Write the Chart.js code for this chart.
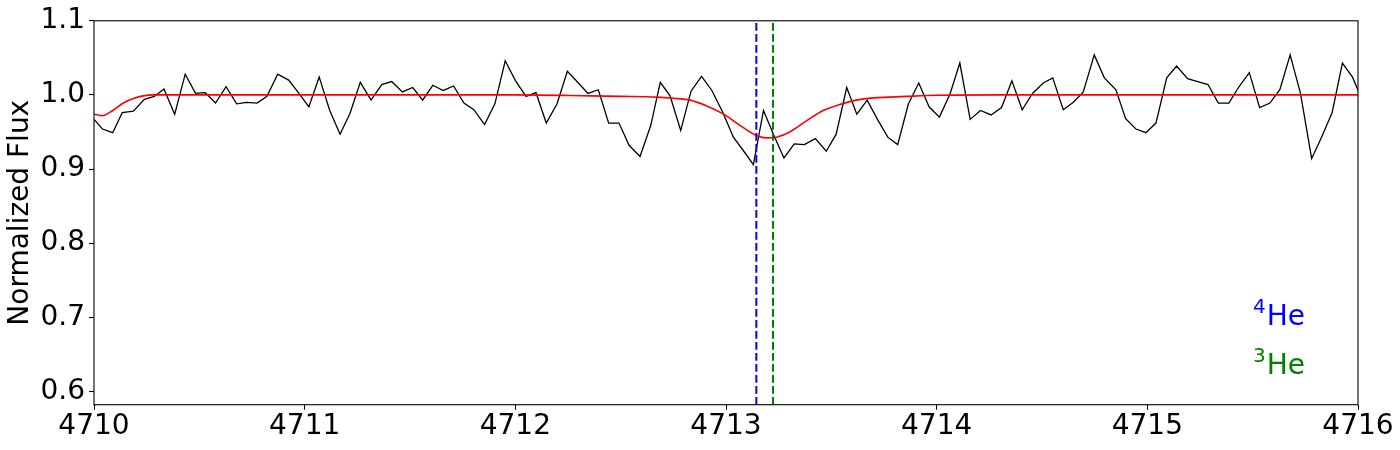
<!DOCTYPE html>
<html>
<head>
<meta charset="utf-8">
<script src="https://cdn.jsdelivr.net/npm/chart.js@4"></script>
<style>
html,body{margin:0;padding:0;background:#fff;}
#wrap{position:relative;width:1400px;height:450px;}
</style>
</head>
<body>
<div id="wrap"><canvas id="c" width="1400" height="450"></canvas></div>
<script>
// ---- data ----
const wavelength = [
4710.000,4710.040,4710.089,4710.134,4710.187,4710.239,4710.286,4710.332,4710.383,4710.433,
4710.482,4710.528,4710.577,4710.627,4710.677,4710.725,4710.774,4710.821,4710.872,4710.924,
4710.973,4711.020,4711.069,4711.119,4711.168,4711.215,4711.264,4711.315,4711.366,4711.413,
4711.464,4711.513,4711.560,4711.608,4711.658,4711.707,4711.756,4711.803,4711.854,4711.903,
4711.952,4712.001,4712.051,4712.098,4712.147,4712.198,4712.247,4712.296,4712.345,4712.394,
4712.443,4712.492,4712.540,4712.592,4712.643,4712.688,4712.734,4712.785,4712.834,4712.884,
4712.933,4712.984,4713.035,4713.082,4713.130,4713.178,4713.225,4713.275,4713.324,4713.372,
4713.424,4713.476,4713.523,4713.573,4713.621,4713.670,4713.719,4713.768,4713.815,4713.866,
4713.915,4713.964,4714.013,4714.063,4714.110,4714.159,4714.208,4714.258,4714.308,4714.357,
4714.406,4714.455,4714.506,4714.551,4714.601,4714.649,4714.696,4714.748,4714.796,4714.851,
4714.897,4714.946,4714.993,4715.041,4715.092,4715.139,4715.191,4715.239,4715.288,4715.337,
4715.387,4715.435,4715.484,4715.533,4715.582,4715.629,4715.678,4715.727,4715.780,4715.827,
4715.877,4715.926,4715.974,4716.023
];
const flux = [
0.967,0.954,0.949,0.976,0.978,0.994,0.998,1.008,0.974,1.028,
1.002,1.003,0.989,1.011,0.988,0.990,0.989,0.998,1.028,1.020,
1.002,0.984,1.024,0.979,0.947,0.975,1.017,0.993,1.014,1.018,
1.004,1.010,0.993,1.013,1.006,1.012,0.989,0.980,0.960,0.988,
1.046,1.019,0.998,1.003,0.962,0.988,1.032,1.017,1.002,1.007,
0.962,0.962,0.932,0.917,0.959,1.017,0.999,0.952,1.005,1.025,
1.006,0.977,0.943,0.925,0.906,0.979,0.947,0.915,0.934,0.933,
0.941,0.924,0.947,1.010,0.974,0.993,0.967,0.943,0.933,0.988,
1.016,0.984,0.970,1.001,1.043,0.967,0.979,0.973,0.983,1.019,
0.980,1.002,1.016,1.023,0.980,0.990,1.004,1.054,1.023,1.007,
0.968,0.954,0.949,0.962,1.023,1.039,1.022,1.018,1.014,0.989,
0.989,1.011,1.030,0.983,0.989,1.007,1.054,1.002,0.914,0.943,
0.976,1.043,1.024,0.991
];
const modelWave = [
4710.000,4710.040,4710.089,4710.139,4710.187,4710.234,4710.286,4710.400,4711.000,4712.000,
4712.355,4712.500,4712.672,4712.750,4712.830,4712.909,4712.988,4713.066,4713.146,4713.193,
4713.240,4713.303,4713.382,4713.461,4713.540,4713.619,4713.698,4713.777,4713.856,4714.000,
4714.300,4715.000,4716.000
];
const modelFlux = [
0.974,0.972,0.979,0.989,0.995,0.9987,1.000,1.000,1.000,1.000,
0.9987,0.998,0.997,0.9955,0.993,0.985,0.974,0.959,0.945,0.942,
0.943,0.950,0.965,0.979,0.987,0.993,0.996,0.997,0.998,0.9995,
1.000,1.000,1.000
];
const he4Wave = 4713.144;
const he3Wave = 4713.223;
const xTicks = [4710,4711,4712,4713,4714,4715,4716];
const yTicks = [0.6,0.7,0.8,0.9,1.0,1.1];
const xRange = [4710,4716];
const yRange = [0.582,1.1];
const yLabel = 'Normalized Flux';
const isoLabels = [{sup:'4', text:'He', color:'#0000ff'},{sup:'3', text:'He', color:'#008000'}];

// ---- chart ----
const FONT = "'DejaVu Sans', sans-serif";
const toPts = (xs, ys) => xs.map((x,i)=>({x:x, y:ys[i]}));

const boxPlugin = {
  id:'box',
  afterDatasetsDraw(chart){
    const {ctx, chartArea:a} = chart;
    ctx.save();
    ctx.strokeStyle = '#000';
    ctx.lineWidth = 1.1;
    ctx.strokeRect(a.left, a.top, a.right-a.left, a.bottom-a.top);
    ctx.restore();
  }
};
const isoPlugin = {
  id:'iso',
  afterDraw(chart){
    const {ctx, chartArea:a} = chart;
    const size = 28;
    const x0 = a.left + 0.917*(a.right-a.left);
    const baselines = [a.bottom - 0.208*(a.bottom-a.top), a.bottom - 0.079*(a.bottom-a.top)];
    ctx.save();
    ctx.textBaseline = 'alphabetic';
    ctx.textAlign = 'left';
    isoLabels.forEach((l,i)=>{
      const yb = baselines[i];
      ctx.fillStyle = l.color;
      ctx.font = `${Math.round(size*0.7)}px ${FONT}`;
      ctx.fillText(l.sup, x0, yb - 0.43*size);
      const w = ctx.measureText(l.sup).width;
      ctx.font = `${size}px ${FONT}`;
      ctx.fillText(l.text, x0 + w + 1, yb);
    });
    ctx.restore();
  }
};

new Chart(document.getElementById('c'), {
  type:'line',
  data:{
    datasets:[
      {data:[{x:he4Wave,y:yRange[0]},{x:he4Wave,y:yRange[1]}], borderColor:'#0000ff', borderWidth:2, borderDash:[7.7,3.3], pointRadius:0, order:0},
      {data:[{x:he3Wave,y:yRange[0]},{x:he3Wave,y:yRange[1]}], borderColor:'#008000', borderWidth:2, borderDash:[7.7,3.3], pointRadius:0, order:0},
      {data:toPts(modelWave, modelFlux), borderColor:'#ff0000', borderWidth:1.6, pointRadius:0, cubicInterpolationMode:'monotone', order:1},
      {data:toPts(wavelength, flux), borderColor:'#000000', borderWidth:1.3, pointRadius:0, tension:0, order:2}
    ]
  },
  options:{
    responsive:false,
    animation:false,
    events:[],
    layout:{padding:{top:17.5, right:42, left:0, bottom:0}},
    plugins:{legend:{display:false}, tooltip:{enabled:false}},
    scales:{
      x:{
        type:'linear', min:xRange[0], max:xRange[1],
        afterFit(s){ s.height = 45.3; },
        afterBuildTicks(s){ s.ticks = xTicks.map(v=>({value:v})); },
        border:{display:false},
        grid:{drawOnChartArea:false, drawTicks:true, tickLength:5, tickColor:'#000', tickWidth:1.1, color:'#000'},
        ticks:{color:'#000', font:{family:FONT, size:28}, padding:0, maxRotation:0, autoSkip:false,
          callback:(v)=>String(v)}
      },
      y:{
        type:'linear', min:yRange[0], max:yRange[1],
        afterFit(s){ s.width = 94; },
        afterBuildTicks(s){ s.ticks = yTicks.map(v=>({value:v})); },
        border:{display:false},
        grid:{drawOnChartArea:false, drawTicks:true, tickLength:5, tickColor:'#000', tickWidth:1.1, color:'#000'},
        ticks:{color:'#000', font:{family:FONT, size:28}, padding:4, autoSkip:false,
          callback:(v)=>Number(v).toFixed(1)},
        title:{display:true, text:yLabel, color:'#000', font:{family:FONT, size:28}, padding:{top:4,bottom:0}}
      }
    }
  },
  plugins:[boxPlugin, isoPlugin]
});
</script>
</body>
</html>
